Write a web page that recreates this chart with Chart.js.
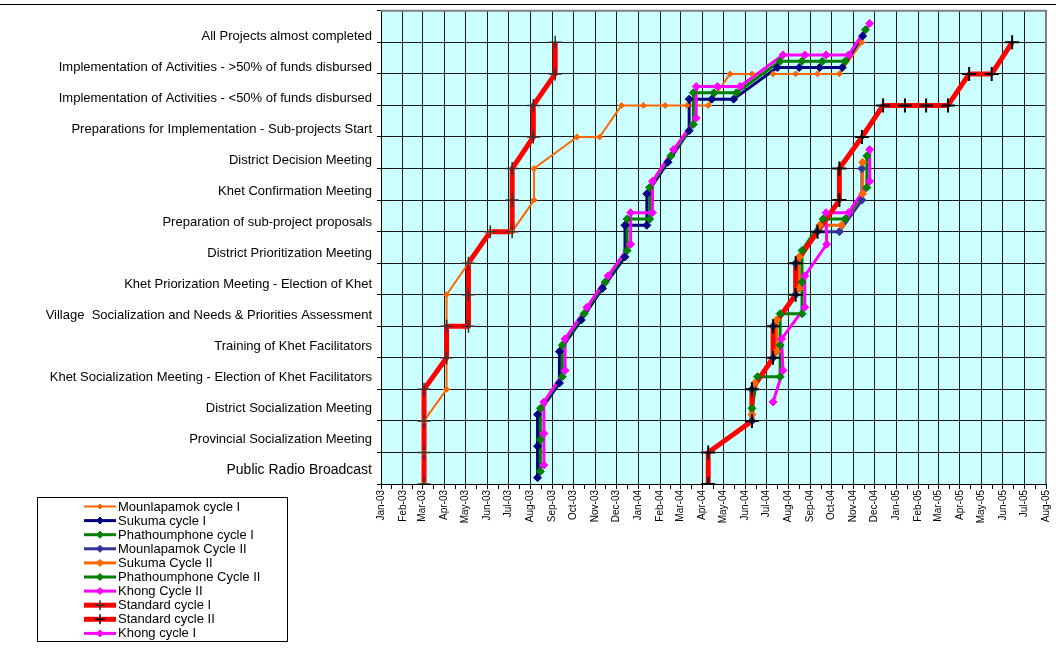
<!DOCTYPE html>
<html>
<head>
<meta charset="utf-8">
<title>Sub-project cycle progress</title>
<script src="https://cdn.jsdelivr.net/npm/chart.js@4.4.0/dist/chart.umd.min.js"></script>
<style>
  html, body { margin: 0; padding: 0; background: #ffffff; }
  canvas { display: block; }
</style>
</head>
<body>
<canvas id="chart" width="1056" height="652"></canvas>
<script>
// Process steps, index = step number on the vertical axis
const stepLabels = [
  'Public Radio Broadcast',
  'Provincial Socialization Meeting',
  'District Socialization Meeting',
  'Khet Socialization Meeting - Election of Khet Facilitators',
  'Training of Khet Facilitators',
  'Village  Socialization and Needs & Priorities Assessment',
  'Khet Priorization Meeting - Election of Khet',
  'District Prioritization Meeting',
  'Preparation of sub-project proposals',
  'Khet Confirmation Meeting',
  'District Decision Meeting',
  'Preparations for Implementation - Sub-projects Start',
  'Implementation of Activities - <50% of funds disbursed',
  'Implementation of Activities - >50% of funds disbursed',
  'All Projects almost completed'
];

const monthNames = ['Jan','Feb','Mar','Apr','May','Jun','Jul','Aug','Sep','Oct','Nov','Dec'];
const axisStart = '2003-01-01';
const axisEnd = '2005-08-01';

// Mounlapamok cycle I
const mounlapamok1Dates = ['2003-03-03','2003-03-03','2003-03-03','2003-04-04','2003-04-04','2003-05-05','2003-06-05','2003-07-06','2003-08-06','2003-08-06','2003-10-06','2003-11-07','2003-12-08','2004-01-08','2004-02-08','2004-03-10','2004-04-09','2004-05-10','2004-06-10','2004-07-10','2004-08-11','2004-09-11','2004-10-12','2004-11-13'];
const mounlapamok1Steps = [0,1,2,3,6,7,8,8,9,10,11,11,12,12,12,12,12,13,13,13,13,13,13,14];

// Sukuma cycle I
const sukuma1Dates = ['2003-08-11','2003-08-11','2003-08-11','2003-09-11','2003-09-11','2003-10-12','2003-11-11','2003-12-13','2003-12-13','2004-01-13','2004-01-13','2004-02-12','2004-03-13','2004-03-13','2004-04-14','2004-05-15','2004-07-16','2004-08-16','2004-09-14','2004-10-16','2004-11-14'];
const sukuma1Steps = [0.2,1.2,2.2,3.2,4.2,5.2,6.2,7.2,8.2,8.2,9.2,10.2,11.2,12.2,12.2,12.2,13.2,13.2,13.2,13.2,14.2];

// Phathoumphone cycle I
const phathoumphone1Dates = ['2003-08-15','2003-08-15','2003-08-15','2003-09-15','2003-09-15','2003-10-16','2003-11-15','2003-12-16','2003-12-16','2004-01-17','2004-01-17','2004-02-16','2004-03-19','2004-03-19','2004-04-17','2004-05-19','2004-07-20','2004-08-20','2004-09-18','2004-10-20','2004-11-18'];
const phathoumphone1Steps = [0.4,1.4,2.4,3.4,4.4,5.4,6.4,7.4,8.4,8.4,9.4,10.4,11.4,12.4,12.4,12.4,13.4,13.4,13.4,13.4,14.4];

// Mounlapamok Cycle II
const mounlapamok2Dates = ['2004-06-10','2004-06-10','2004-07-10','2004-07-10','2004-08-11','2004-08-11','2004-09-11','2004-10-12','2004-11-13','2004-11-13'];
const mounlapamok2Steps = [2,3,4,5,6,7,8,8,9,10];

// Sukuma Cycle II
const sukuma2Dates = ['2004-06-10','2004-06-14','2004-07-15','2004-07-15','2004-08-16','2004-08-16','2004-09-14','2004-10-15','2004-11-14','2004-11-14'];
const sukuma2Steps = [2.2,3.2,4.2,5.2,6.2,7.2,8.2,8.2,9.2,10.2];

// Phathoumphone Cycle II
const phathoumphone2Dates = ['2004-06-10','2004-06-18','2004-07-20','2004-07-20','2004-07-20','2004-08-20','2004-08-20','2004-08-20','2004-09-19','2004-10-20','2004-11-20','2004-11-20'];
const phathoumphone2Steps = [2.4,3.4,3.4,4.4,5.4,5.4,6.4,7.4,8.4,8.4,9.4,10.4];

// Khong Cycle II
const khong2Dates = ['2004-07-10','2004-07-24','2004-07-22','2004-08-24','2004-08-24','2004-09-24','2004-09-23','2004-10-25','2004-11-24','2004-11-24'];
const khong2Steps = [2.6,3.6,4.6,5.6,6.6,7.6,8.6,8.6,9.6,10.6];

// Standard cycle I
const standard1Dates = ['2003-03-03','2003-03-03','2003-03-03','2003-03-03','2003-04-04','2003-04-04','2003-05-05','2003-05-05','2003-05-05','2003-06-05','2003-07-06','2003-07-06','2003-07-06','2003-08-05','2003-08-05','2003-09-05','2003-09-05'];
const standard1Steps = [0,1,2,3,4,5,5,6,7,8,8,9,10,11,12,13,14];

// Standard cycle II
const standard2Dates = ['2004-04-09','2004-04-09','2004-06-10','2004-06-10','2004-07-10','2004-07-10','2004-08-11','2004-08-11','2004-09-11','2004-10-12','2004-10-12','2004-11-13','2004-12-13','2005-01-13','2005-02-12','2005-03-15','2005-04-14','2005-05-16','2005-06-14'];
const standard2Steps = [0,1,2,3,4,5,6,7,8,9,10,11,12,12,12,12,13,13,14];

// Khong cycle I
const khong1Dates = ['2003-08-20','2003-08-20','2003-08-20','2003-09-19','2003-09-19','2003-10-20','2003-11-19','2003-12-21','2003-12-21','2004-01-21','2004-01-21','2004-02-20','2004-03-23','2004-03-23','2004-04-22','2004-05-24','2004-07-24','2004-08-24','2004-09-23','2004-10-25','2004-11-24'];
const khong1Steps = [0.6,1.6,2.6,3.6,4.6,5.6,6.6,7.6,8.6,8.6,9.6,10.6,11.6,12.6,12.6,12.6,13.6,13.6,13.6,13.6,14.6];

// ---------------------------------------------------------------------------
const FONT = '"Liberation Sans", Arial, Helvetica, sans-serif';
const DAY = 86400000;
function toUTC(s) { const p = s.split('-').map(Number); return Date.UTC(p[0], p[1] - 1, p[2]); }
const BASE = toUTC(axisStart);
function dayIndex(s) { return (toUTC(s) - BASE) / DAY; }
function points(dates, steps) { return dates.map((d, i) => ({ x: dayIndex(d), y: steps[i] })); }

// series in drawing order (later series sit on top)
const series = [
  { label: 'Mounlapamok cycle I',   data: points(mounlapamok1Dates, mounlapamok1Steps),     color: '#FF6600', width: 2,   marker: 'rectRot', mColor: '#FF6600', radius: 3,   mWidth: 1 },
  { label: 'Sukuma cycle I',        data: points(sukuma1Dates, sukuma1Steps),               color: '#000080', width: 3,   marker: 'rectRot', mColor: '#000080', radius: 4,   mWidth: 1 },
  { label: 'Phathoumphone cycle I', data: points(phathoumphone1Dates, phathoumphone1Steps), color: '#008000', width: 3,   marker: 'rectRot', mColor: '#008000', radius: 4,   mWidth: 1 },
  { label: 'Mounlapamok Cycle II',  data: points(mounlapamok2Dates, mounlapamok2Steps),     color: '#333399', width: 3,   marker: 'rectRot', mColor: '#333399', radius: 4,   mWidth: 1 },
  { label: 'Sukuma Cycle II',       data: points(sukuma2Dates, sukuma2Steps),               color: '#FF6600', width: 3,   marker: 'rectRot', mColor: '#FF6600', radius: 4,   mWidth: 1 },
  { label: 'Phathoumphone Cycle II',data: points(phathoumphone2Dates, phathoumphone2Steps), color: '#008000', width: 3,   marker: 'rectRot', mColor: '#008000', radius: 4,   mWidth: 1 },
  { label: 'Khong Cycle II',        data: points(khong2Dates, khong2Steps),                 color: '#FF00FF', width: 3,   marker: 'rectRot', mColor: '#FF00FF', radius: 4,   mWidth: 1 },
  { label: 'Standard cycle I',      data: points(standard1Dates, standard1Steps),           color: '#FF0000', width: 5,   marker: 'cross',   mColor: '#333333', radius: 6.5, mWidth: 1.5 },
  { label: 'Standard cycle II',     data: points(standard2Dates, standard2Steps),           color: '#FF0000', width: 5,   marker: 'cross',   mColor: '#000000', radius: 7,   mWidth: 2 },
  { label: 'Khong cycle I',         data: points(khong1Dates, khong1Steps),                 color: '#FF00FF', width: 3,   marker: 'rectRot', mColor: '#FF00FF', radius: 4,   mWidth: 1 }
];

// lines of every series first, then all the markers above them
const datasets = [];
const N = series.length;
series.forEach((s, i) => {
  datasets.push({
    label: s.label, data: s.data, showLine: true, fill: false, tension: 0,
    borderColor: s.color, borderWidth: s.width, pointRadius: 0, pointHoverRadius: 0,
    borderCapStyle: 'butt', borderJoinStyle: 'round', order: 2 * N - i
  });
});
series.forEach((s, i) => {
  datasets.push({
    label: s.label + ' markers', data: s.data, showLine: false,
    pointStyle: s.marker, pointRadius: s.radius, pointHoverRadius: s.radius,
    pointBackgroundColor: s.mColor, pointBorderColor: s.mColor, pointBorderWidth: s.mWidth,
    order: N - i
  });
});

// month ticks with a half-month minor tick between them
const xEnd = dayIndex(axisEnd);
function buildMonthTicks() {
  const ticks = [];
  const start = new Date(BASE);
  let y = start.getUTCFullYear(), m = start.getUTCMonth();
  while (true) {
    const v = (Date.UTC(y, m, 1) - BASE) / DAY;
    if (v > xEnd + 0.1) break;
    ticks.push({ value: v, name: monthNames[m] + '-' + String(y).slice(2) });
    const nv = (Date.UTC(y, m + 1, 1) - BASE) / DAY;
    if (nv <= xEnd + 0.1) ticks.push({ value: (v + nv) / 2, name: '', mid: true });
    m++; if (m > 11) { m = 0; y++; }
  }
  return ticks;
}

const plotBackground = {
  id: 'plotBackground',
  beforeDraw(chart) {
    const { ctx, chartArea: a } = chart;
    ctx.save();
    ctx.fillStyle = '#CCFFFF';
    ctx.fillRect(a.left, a.top, a.right - a.left, a.bottom - a.top);
    ctx.restore();
  },
  beforeDatasetsDraw(chart) {
    const { ctx, chartArea: a } = chart;
    ctx.save();
    ctx.strokeStyle = '#808080';
    ctx.lineWidth = 2;
    ctx.beginPath();
    ctx.moveTo(a.left, a.top);
    ctx.lineTo(a.right, a.top);
    ctx.lineTo(a.right, a.bottom);
    ctx.stroke();
    // outer frame line along the top of the chart
    ctx.strokeStyle = '#000000';
    ctx.lineWidth = 1;
    ctx.beginPath();
    ctx.moveTo(0, 4.5);
    ctx.lineTo(chart.width, 4.5);
    ctx.stroke();
    ctx.restore();
  }
};

function drawMarker(ctx, style, x, y, r, color, lw) {
  ctx.save();
  ctx.strokeStyle = color; ctx.fillStyle = color; ctx.lineWidth = lw;
  ctx.beginPath();
  if (style === 'cross') {
    ctx.moveTo(x - r, y); ctx.lineTo(x + r, y);
    ctx.moveTo(x, y - r); ctx.lineTo(x, y + r);
    ctx.stroke();
  } else {
    ctx.moveTo(x, y - r); ctx.lineTo(x + r, y); ctx.lineTo(x, y + r); ctx.lineTo(x - r, y);
    ctx.closePath(); ctx.fill(); ctx.stroke();
  }
  ctx.restore();
}

const boxLegend = {
  id: 'boxLegend',
  afterDraw(chart) {
    const ctx = chart.ctx;
    const box = { left: 37.5, top: 497.5, right: 287.5, bottom: 641.5 };
    ctx.save();
    ctx.fillStyle = '#fff';
    ctx.fillRect(box.left, box.top, box.right - box.left, box.bottom - box.top);
    ctx.strokeStyle = '#000'; ctx.lineWidth = 1;
    ctx.strokeRect(box.left, box.top, box.right - box.left, box.bottom - box.top);
    ctx.font = '13px ' + FONT;
    ctx.textBaseline = 'middle'; ctx.textAlign = 'left';
    series.forEach((s, i) => {
      const y = 506.5 + i * 14.1;
      ctx.strokeStyle = s.color; ctx.lineWidth = s.width;
      ctx.beginPath(); ctx.moveTo(84, y); ctx.lineTo(116, y); ctx.stroke();
      drawMarker(ctx, s.marker, 100, y, s.marker === 'cross' ? 5 : Math.max(2.5, s.radius - 0.5), s.mColor, s.marker === 'cross' ? 1.5 : 1);
      ctx.fillStyle = '#000';
      ctx.fillText(s.label, 118, y + 0.5);
    });
    ctx.restore();
  }
};

new Chart(document.getElementById('chart'), {
  type: 'scatter',
  data: { datasets },
  plugins: [plotBackground, boxLegend],
  options: {
    responsive: false,
    animation: false,
    devicePixelRatio: 1,
    layout: { padding: { top: 10, right: 10, left: 0, bottom: 0 } },
    plugins: { legend: { display: false }, tooltip: { enabled: false } },
    events: [],
    scales: {
      x: {
        type: 'linear', position: 'bottom',
        min: 0, max: xEnd,
        afterBuildTicks: s => { s.ticks = buildMonthTicks(); },
        afterFit: s => { s.height = 168; s.paddingLeft = 0; s.paddingRight = 0; },
        grid: {
          color: c => (c.tick && c.tick.mid ? 'rgba(0,0,0,0)' : '#1a1a1a'),
          tickColor: '#000', lineWidth: 1, tickLength: 5, drawTicks: true
        },
        border: { display: true, color: '#000', width: 1 },
        ticks: {
          autoSkip: false, minRotation: 90, maxRotation: 90, padding: 1,
          color: '#000', font: { family: FONT, size: 10 },
          callback: (v, i, ticks) => ticks[i].name
        }
      },
      y: {
        type: 'linear', position: 'left', weight: 0,
        min: 0, max: 15,
        afterBuildTicks: s => { const t = []; for (let v = 0; v <= 15; v++) t.push({ value: v }); s.ticks = t; },
        afterFit: s => { s.width = 6; },
        grid: { color: '#1a1a1a', tickColor: '#000', lineWidth: 1, tickLength: 4 },
        border: { display: true, color: '#000', width: 1 },
        ticks: { display: true, callback: () => '', padding: 0 }
      },
      // row names of the process steps
      rows: {
        type: 'linear', position: 'left', weight: 10,
        min: -0.4516, max: 14.839,
        afterBuildTicks: s => { s.ticks = stepLabels.map((_, i) => ({ value: i })); },
        afterFit: s => { s.width = 375; },
        grid: { display: false, drawTicks: false },
        border: { display: false },
        ticks: {
          autoSkip: false, padding: 3, color: '#000',
          font: c => ({ family: FONT, size: c.tick && c.tick.value === 0 ? 14 : 13 }),
          callback: v => stepLabels[v]
        }
      }
    }
  }
});
</script>
</body>
</html>
